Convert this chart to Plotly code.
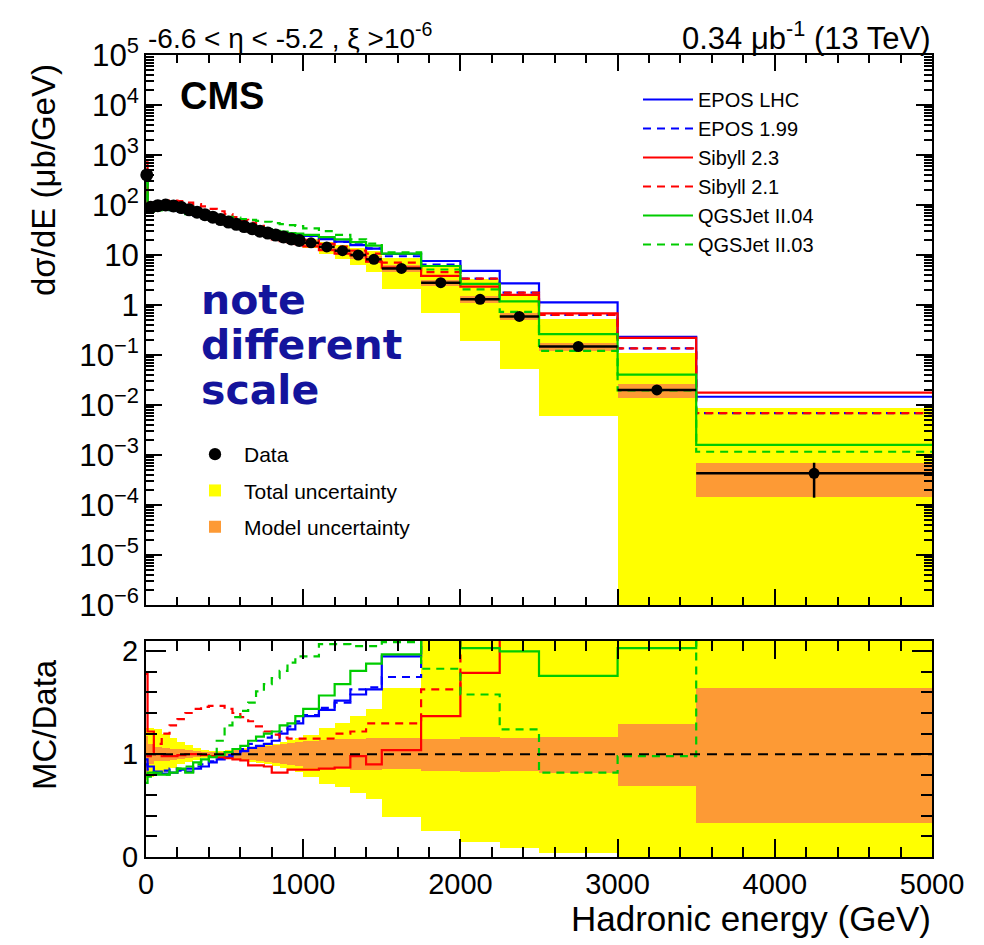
import plotly.graph_objects as go

# ---------------- data ----------------
edges = [0, 10, 50, 100, 150, 200, 250, 300, 350, 400, 450, 500, 550, 600, 650, 700,
         750, 800, 850, 900, 950, 1000, 1100, 1200, 1300, 1400, 1500, 1750, 2000,
         2250, 2500, 3000, 3500, 5000]

data = [400, 90, 97, 100, 96, 89, 80, 72, 64, 57, 51, 45.5, 41, 37, 33.5, 30, 27.5,
        25, 23, 21, 19.5, 17.5, 14.5, 12.2, 10.0, 8.2, 5.4, 2.8, 1.3, 0.59, 0.148,
        0.02, 0.00043]
data_err_up = [0] * 22 + [0.3, 0.3, 0.3, 0.25, 0.2, 0.12, 0.07, 0.04, 0.012, 0.003, 0.00027]
data_err_dn = [0] * 22 + [0.3, 0.3, 0.3, 0.25, 0.2, 0.12, 0.07, 0.04, 0.012, 0.003, 0.00029]

# MC / Data ratios per bin
ratio_epos_lhc = [0.95, 0.88, 0.83, 0.81, 0.82, 0.85, 0.83, 0.86, 0.88, 0.92, 0.95, 0.97,
                  1.0, 1.03, 1.06, 1.08, 1.1, 1.13, 1.2, 1.24, 1.3, 1.37, 1.43, 1.52, 1.58,
                  1.63, 1.95, 2.71, 3.7, 4.6, 7.6, 11.6, 34]
ratio_epos_199 = [0.9, 0.85, 0.82, 0.84, 0.86, 0.84, 0.86, 0.88, 0.9, 0.93, 0.96, 0.99,
                  1.02, 1.05, 1.1, 1.13, 1.16, 1.19, 1.22, 1.27, 1.32, 1.38, 1.45, 1.5,
                  1.63, 1.65, 1.75, 2.3, 2.6, 3.0, 4.3, 6.8, 16]
ratio_sibyll_23 = [1.78, 1.22, 1.0, 0.98, 0.98, 0.99, 1.0, 1.0, 0.99, 0.98, 0.97, 0.96,
                   0.95, 0.94, 0.89, 0.89, 0.88, 0.82, 0.82, 0.85, 0.85, 0.85, 0.86, 0.87,
                   0.98, 0.9, 1.04, 1.37, 1.79, 2.7, 4.6, 11, 41]
ratio_sibyll_21 = [1.0, 0.98, 1.1, 1.2, 1.28, 1.34, 1.4, 1.44, 1.46, 1.47, 1.47, 1.44,
                   1.4, 1.36, 1.32, 1.27, 1.22, 1.19, 1.16, 1.15, 1.15, 1.15, 1.15, 1.2,
                   1.22, 1.3, 1.3, 1.63, 2.6, 3.0, 4.3, 6.8, 16]
ratio_qgsjet_04 = [0.72, 0.82, 0.8, 0.8, 0.82, 0.86, 0.82, 0.92, 0.95, 0.97, 0.99, 1.02,
                   1.05, 1.08, 1.13, 1.17, 1.2, 1.22, 1.28, 1.3, 1.37, 1.44, 1.57, 1.68,
                   1.81, 1.88, 1.97, 2.15, 2.03, 2.0, 1.76, 2.03, 3.7]
ratio_qgsjet_03 = [0.8, 0.78, 0.82, 0.8, 0.84, 0.86, 0.88, 0.9, 0.93, 0.98, 1.13, 1.28,
                   1.36, 1.42, 1.5, 1.61, 1.68, 1.74, 1.81, 1.89, 1.95, 1.95, 2.07, 2.07,
                   2.05, 2.05, 2.09, 1.83, 1.58, 1.24, 0.82, 0.98, 2.7]

# uncertainty bands relative to data
total_hi = [1.25, 1.25, 1.24, 1.2, 1.16, 1.12, 1.09, 1.06, 1.04, 1.03, 1.03, 1.04, 1.05,
            1.06, 1.07, 1.08, 1.09, 1.1, 1.12, 1.14, 1.16, 1.19, 1.25, 1.3, 1.37, 1.44,
            1.64, 2.2, 2.5, 2.8, 3.5, 5.5, 20]
total_lo = [0.75, 0.78, 0.8, 0.83, 0.87, 0.9, 0.92, 0.94, 0.96, 0.97, 0.97, 0.96, 0.95,
            0.93, 0.92, 0.91, 0.9, 0.88, 0.87, 0.85, 0.83, 0.78, 0.71, 0.68, 0.62, 0.56,
            0.39, 0.25, 0.15, 0.09, 0.04, 0.0, 0.0]
model_hi = [1.18, 1.1, 1.07, 1.06, 1.05, 1.05, 1.04, 1.03, 1.02, 1.02, 1.02, 1.03, 1.04,
            1.05, 1.06, 1.07, 1.08, 1.09, 1.1, 1.11, 1.12, 1.13, 1.14, 1.15, 1.15, 1.16,
            1.16, 1.15, 1.17, 1.16, 1.17, 1.29, 1.64]
model_lo = [0.8, 0.9, 0.93, 0.93, 0.94, 0.95, 0.96, 0.97, 0.98, 0.98, 0.98, 0.97, 0.96,
            0.95, 0.94, 0.93, 0.92, 0.91, 0.9, 0.89, 0.88, 0.87, 0.86, 0.86, 0.85, 0.85,
            0.86, 0.84, 0.83, 0.84, 0.82, 0.69, 0.33]

models = [
    ("EPOS LHC", ratio_epos_lhc, "#0000ff", "solid"),
    ("EPOS 1.99", ratio_epos_199, "#0000ff", "8px,6px"),
    ("Sibyll 2.3", ratio_sibyll_23, "#ff0000", "solid"),
    ("Sibyll 2.1", ratio_sibyll_21, "#ff0000", "8px,6px"),
    ("QGSJet II.04", ratio_qgsjet_04, "#00cc00", "solid"),
    ("QGSJet II.03", ratio_qgsjet_03, "#00cc00", "8px,6px"),
]

YELLOW = "#ffff00"
ORANGE = "#fd9a35"
FONT = "Liberation Sans, Arial, sans-serif"

# ---------------- derived geometry helpers ----------------
centers = [(a + b) / 2 for a, b in zip(edges[:-1], edges[1:])]
widths = [b - a for a, b in zip(edges[:-1], edges[1:])]
halfw = [w / 2 for w in widths]
marker_sizes = [13 if w <= 50 else 11 for w in widths]

def step_y(vals):
    return list(vals) + [vals[-1]]

# pixel layout of the plot region
L, R, T, B = 146, 932, 55, 857
W, H = 984, 945
def px2x(px):
    return (px - L) / (R - L)
def py2y(py):
    return (B - py) / (B - T)

fig = go.Figure()

# ---------------- top panel (x, y) ----------------
tot_lo_abs = [max(d * f, 1e-9) for d, f in zip(data, total_lo)]
tot_hi_abs = [d * f for d, f in zip(data, total_hi)]
mod_lo_abs = [max(d * f, 1e-9) for d, f in zip(data, model_lo)]
mod_hi_abs = [d * f for d, f in zip(data, model_hi)]

fig.add_trace(go.Bar(x=centers, width=widths, base=tot_lo_abs,
                     y=[h - l for h, l in zip(tot_hi_abs, tot_lo_abs)],
                     marker=dict(color=YELLOW, line=dict(width=0)),
                     name="Total uncertainty", legend="legend2", legendrank=2,
                     legendgroup="g2",
                     xaxis="x", yaxis="y", hoverinfo="skip"))
fig.add_trace(go.Bar(x=centers, width=widths, base=mod_lo_abs,
                     y=[h - l for h, l in zip(mod_hi_abs, mod_lo_abs)],
                     marker=dict(color=ORANGE, line=dict(width=0)),
                     name="Model uncertainty", legend="legend2", legendrank=3,
                     legendgroup="g3",
                     xaxis="x", yaxis="y", hoverinfo="skip"))

for name, ratio, color, dash in models:
    vals = [d * r for d, r in zip(data, ratio)]
    fig.add_trace(go.Scatter(x=edges, y=step_y(vals), mode="lines",
                             line=dict(shape="hv", color=color, width=2.2, dash=dash),
                             name=name, legend="legend", xaxis="x", yaxis="y"))

fig.add_trace(go.Scatter(x=centers, y=data, mode="markers", name="Data",
                         marker=dict(color="black", size=marker_sizes, opacity=1,
                                     line=dict(width=0, color="black")),
                         error_x=dict(type="data", array=halfw, color="black",
                                      thickness=2.5, width=0),
                         error_y=dict(type="data", array=data_err_up,
                                      arrayminus=data_err_dn, color="black",
                                      thickness=2.5, width=0),
                         cliponaxis=False, legend="legend2", legendrank=1,
                         legendgroup="g1",
                         xaxis="x", yaxis="y"))

# ---------------- ratio panel (x2, y2) ----------------
fig.add_trace(go.Bar(x=centers, width=widths, base=total_lo,
                     y=[h - l for h, l in zip(total_hi, total_lo)],
                     marker=dict(color=YELLOW, line=dict(width=0)),
                     showlegend=False, xaxis="x2", yaxis="y2", hoverinfo="skip"))
fig.add_trace(go.Bar(x=centers, width=widths, base=model_lo,
                     y=[h - l for h, l in zip(model_hi, model_lo)],
                     marker=dict(color=ORANGE, line=dict(width=0)),
                     showlegend=False, xaxis="x2", yaxis="y2", hoverinfo="skip"))
for name, ratio, color, dash in models:
    fig.add_trace(go.Scatter(x=edges, y=step_y(ratio), mode="lines",
                             line=dict(shape="hv", color=color, width=2.2, dash=dash),
                             showlegend=False, xaxis="x2", yaxis="y2"))

fig.add_shape(type="line", xref="x2 domain", yref="y2", x0=0, x1=1, y0=1, y1=1,
              line=dict(color="black", width=2, dash="10px,7px"), layer="above")

# ---------------- axes ----------------
top_dom = [py2y(605), 1.0]
bot_dom = [0.0, py2y(641)]
axis_common = dict(showline=True, linecolor="black", linewidth=2, mirror="ticks",
                   ticks="inside", tickcolor="black", tickwidth=1.5, showgrid=False,
                   zeroline=False)

fig.update_layout(
    width=W, height=H,
    margin=dict(l=L, r=W - R, t=T, b=H - B, pad=0),
    paper_bgcolor="white", plot_bgcolor="white",
    barmode="overlay", bargap=0,
    font=dict(family=FONT, color="black"),
    xaxis=dict(domain=[0, 1], anchor="y", range=[0, 5000], matches="x2",
               showticklabels=False, dtick=1000, ticklen=16,
               minor=dict(ticks="inside", dtick=200, ticklen=8, tickcolor="black",
                          tickwidth=1.5, showgrid=False),
               **axis_common),
    yaxis=dict(domain=top_dom, anchor="x", type="log", range=[-6, 5], dtick=1,
               exponentformat="power", ticklen=16,
               tickfont=dict(size=25, family=FONT),
               minor=dict(ticks="inside", dtick="D1", ticklen=8, tickcolor="black",
                          tickwidth=1.5, showgrid=False),
               **axis_common),
    xaxis2=dict(domain=[0, 1], anchor="y2", range=[0, 5000], dtick=1000, ticklen=18,
                tickfont=dict(size=29, family=FONT),
                minor=dict(ticks="inside", dtick=200, ticklen=10, tickcolor="black",
                           tickwidth=1.5, showgrid=False),
                **axis_common),
    yaxis2=dict(domain=bot_dom, anchor="x2", range=[0, 2.1], dtick=1, ticklen=20,
                tickfont=dict(size=29, family=FONT),
                minor=dict(ticks="inside", dtick=0.2, ticklen=11, tickcolor="black",
                           tickwidth=1.5, showgrid=False),
                **axis_common),
    legend=dict(x=px2x(638), y=py2y(80), xanchor="left", yanchor="top",
                bgcolor="rgba(0,0,0,0)", font=dict(size=20, family=FONT),
                itemwidth=50, tracegroupgap=0),
    legend2=dict(x=px2x(186), y=py2y(434), xanchor="left", yanchor="top",
                 bgcolor="rgba(0,0,0,0)", font=dict(size=21, family=FONT),
                 itemwidth=48, tracegroupgap=6),
)

# ---------------- text ----------------
ann = []
ann.append(dict(text="-6.6 < η < -5.2 , ξ >10<sup>-6</sup>", x=px2x(146), y=py2y(36),
                xanchor="left", yanchor="middle",
                font=dict(size=28, family=FONT)))
ann.append(dict(text="0.34 μb<sup>-1</sup> (13 TeV)", x=px2x(933), y=py2y(36),
                xanchor="right", yanchor="middle",
                font=dict(size=31, family=FONT)))
ann.append(dict(text="<b>CMS</b>", x=px2x(178), y=py2y(96), xanchor="left",
                yanchor="middle", font=dict(size=38, family=FONT)))
note_font = dict(size=41, family="Comic Sans MS, DejaVu Sans", color="#14149c")
for word, py in (("note", 300), ("different", 345), ("scale", 390)):
    ann.append(dict(text="<b>%s</b>" % word, x=px2x(199), y=py2y(py),
                    xanchor="left", yanchor="middle", font=note_font))
ann.append(dict(text="dσ/dE (μb/GeV)", x=px2x(44), y=py2y(62), textangle=-90,
                xanchor="center", yanchor="top", font=dict(size=33, family=FONT)))
ann.append(dict(text="MC/Data", x=px2x(44), y=py2y(725), textangle=-90,
                xanchor="center", yanchor="middle", font=dict(size=33, family=FONT)))
ann.append(dict(text="Hadronic energy (GeV)", x=px2x(933), y=py2y(918),
                xanchor="right", yanchor="middle", font=dict(size=35, family=FONT)))
for a in ann:
    a.update(xref="paper", yref="paper", showarrow=False)
fig.update_layout(annotations=ann)

fig.write_html("out.html")
